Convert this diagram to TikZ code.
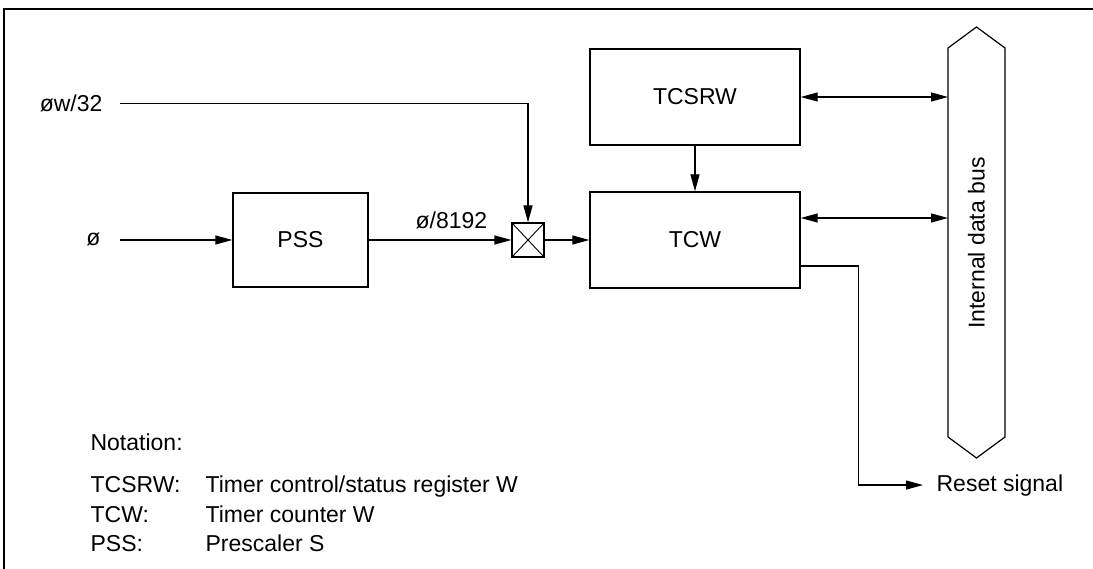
\documentclass[tikz,border=0pt]{standalone}
\usepackage{fontspec}
\setmainfont{Liberation Sans}
\usetikzlibrary{arrows.meta, positioning}

\begin{document}
\begin{tikzpicture}[
      x=1pt, y=-1pt,
      font=\fontsize{23}{28}\selectfont,
      line width=1.2pt,
      blk/.style={draw, line width=1.4pt, minimum width=210pt, minimum height=96pt},
      sel/.style={draw, minimum width=32pt, minimum height=34pt,
                  path picture={\draw[line width=0.9pt]
                    (path picture bounding box.north west) -- (path picture bounding box.south east)
                    (path picture bounding box.north east) -- (path picture bounding box.south west);}},
      lbl/.style={inner sep=0pt},
      arr/.style={-{Triangle[length=17pt, width=9pt]}},
      biarr/.style={{Triangle[length=17pt, width=9pt]}-{Triangle[length=17pt, width=9pt]}}]

    \useasboundingbox (0,0) rectangle (1093,569);

    % ── Cadre ──
    \draw (4,569) -- (4,9) -- (1093,9);

    % ── Blocs ──
    \node[blk] (tcsrw) at (695,97) {TCSRW};
    \node[blk] (tcw) at (695,240) {TCW};
    \node[blk, minimum width=135pt, minimum height=94pt] (pss) at (300.5,240) {PSS};
    \node[sel] (sw) at (528,240) {};

    % ── Bus interne ──
    \draw (948,48) -- (976.5,27) -- (1005,48) -- (1005,437)
      -- (976.5,458) -- (948,437) -- cycle;
    \node[rotate=90] (bus) at (976.5,243) {Internal data bus};
    \coordinate (busl) at (948,243);

    % ── Entrées ──
    \node[lbl, anchor=base east] (phiw) at (103,112) {øw/32};
    \node[lbl, anchor=base east] (phi) at (101,246) {ø};
    \node[lbl, anchor=base west] (rst) at (936,491) {Reset signal};

    % ── Flèches ──
    \draw[arr] ([xshift=17pt]phiw.east) -| (sw.north);
    \draw[arr] ([xshift=19pt]phi.east |- pss) -- (pss.west);
    \draw[arr] (pss) -- node[above=7pt, pos=0.58] {ø/8192} (sw);
    \draw[arr] (sw) -- (tcw);
    \draw[arr] (tcsrw) -- (tcw);
    \draw[biarr] (tcsrw.east) -- (tcsrw.east -| busl);
    \draw[biarr] ([yshift=22pt]tcw.east) -- ([yshift=22pt]tcw.east -| busl);
    \draw[arr, shorten >=13pt] ([yshift=-26pt]tcw.east) -- ++(58,0) |- (rst.west);

    % ── Notation ──
    \node[lbl, anchor=base west] (note) at (90,450) {Notation:};
    \node[lbl, anchor=base west] (k1) at (90,492) {TCSRW:};
    \node[lbl, anchor=base west] (v1) at (205,492) {Timer control/status register W};
    \node[lbl, anchor=base west] (k2) at (90,522) {TCW:};
    \node[lbl, anchor=base west] (v2) at (205,522) {Timer counter W};
    \node[lbl, anchor=base west] (k3) at (90,551) {PSS:};
    \node[lbl, anchor=base west] (v3) at (205,551) {Prescaler S};

  \end{tikzpicture}
\end{document}
